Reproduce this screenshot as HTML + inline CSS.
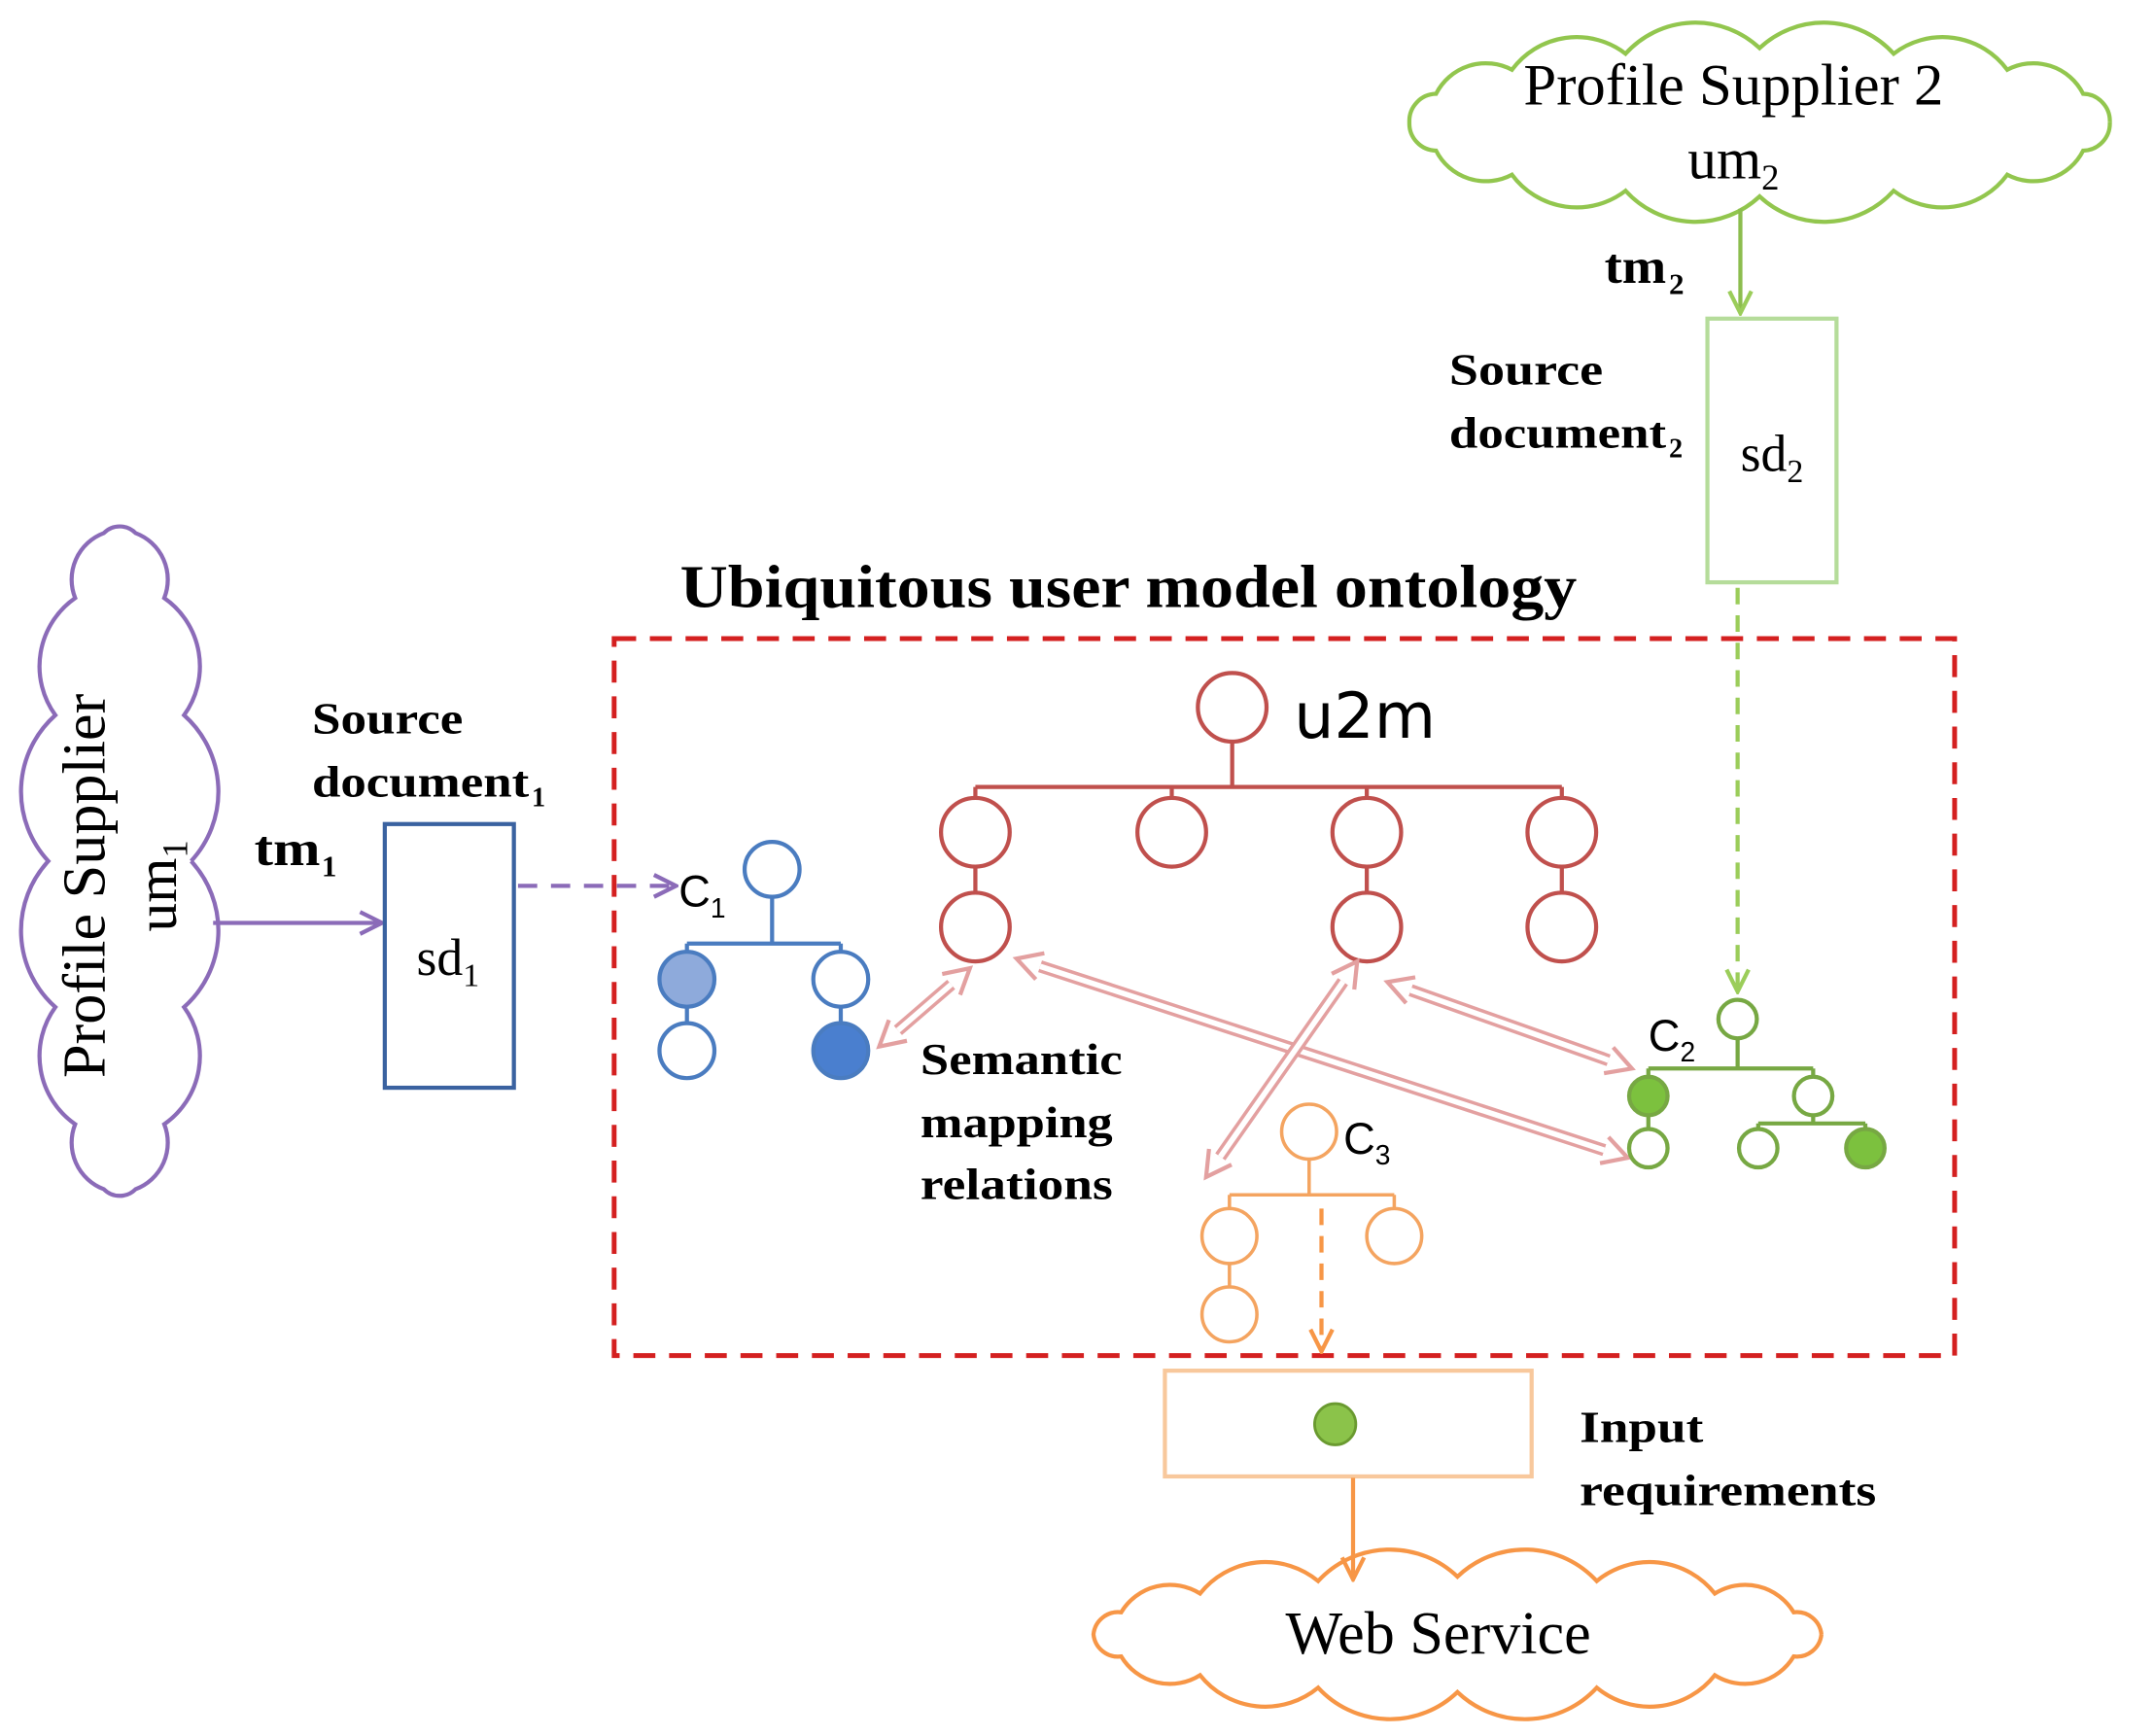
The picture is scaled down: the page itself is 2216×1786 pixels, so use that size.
<!DOCTYPE html>
<html><head><meta charset="utf-8"><style>
html,body{margin:0;padding:0;background:#fff;}
svg{display:block}
.serif{font-family:"Liberation Serif",serif}
.b{font-weight:bold}
</style></head><body>
<svg id="s" width="2216" height="1786" viewBox="0 0 1568 1264" xmlns="http://www.w3.org/2000/svg">
<defs>
<marker id="ap" markerWidth="20" markerHeight="20" refX="18" refY="10" orient="auto" markerUnits="userSpaceOnUse"><path d="M2,2 L18,10 L2,18" fill="none" stroke="#8b6bb8" stroke-width="3"/></marker>
<marker id="ao" markerWidth="20" markerHeight="20" refX="18" refY="10" orient="auto" markerUnits="userSpaceOnUse"><path d="M2,2 L18,10 L2,18" fill="none" stroke="#f79646" stroke-width="3"/></marker>
<marker id="agl" markerWidth="20" markerHeight="20" refX="18" refY="10" orient="auto" markerUnits="userSpaceOnUse"><path d="M2,2 L18,10 L2,18" fill="none" stroke="#9bcd5a" stroke-width="3"/></marker>
</defs>
<g id="clouds"></g>

<text x="1262" y="76" class="serif" font-size="43" text-anchor="middle">Profile Supplier 2</text>
<text x="1262" y="130" class="serif" font-size="42" text-anchor="middle">um<tspan font-size="26" dy="8">2</tspan></text>
<line x1="1267" y1="152" x2="1267" y2="228" stroke="#8cbd4e" stroke-width="3" marker-end="url(#agl)"/>
<text x="1168" y="206" class="serif b" font-size="36" textLength="45" lengthAdjust="spacingAndGlyphs">tm</text><text x="1215" y="214" class="serif b" font-size="22">2</text>
<rect x="1243" y="232" width="94" height="192" fill="none" stroke="#b5dc9a" stroke-width="3"/>
<text x="1290" y="343" class="serif" font-size="38" text-anchor="middle">sd<tspan font-size="24" dy="8">2</tspan></text>
<text x="1055" y="280" class="serif b" font-size="32" textLength="112" lengthAdjust="spacingAndGlyphs">Source</text>
<text x="1055" y="326" class="serif b" font-size="32" textLength="158" lengthAdjust="spacingAndGlyphs">document</text><text x="1215" y="333" class="serif b" font-size="20">2</text>
<line x1="1265" y1="428" x2="1265" y2="722" stroke="#9bcd5a" stroke-width="3" stroke-dasharray="12,8" marker-end="url(#agl)"/>

<text x="495" y="442" class="serif b" font-size="44" textLength="653" lengthAdjust="spacingAndGlyphs">Ubiquitous user model ontology</text>
<rect x="447" y="465" width="976" height="522" fill="none" stroke="#d42020" stroke-width="3.5" stroke-dasharray="16,10"/>

<text transform="translate(76,645) rotate(-90)" class="serif" font-size="44" text-anchor="middle">Profile Supplier</text>
<text transform="translate(128,645) rotate(-90)" class="serif" font-size="42" text-anchor="middle">um<tspan font-size="26" dy="8">1</tspan></text>
<line x1="155" y1="672" x2="278" y2="672" stroke="#8b6bb8" stroke-width="3" marker-end="url(#ap)"/>
<text x="185" y="630" class="serif b" font-size="36" textLength="48" lengthAdjust="spacingAndGlyphs">tm</text><text x="234" y="638" class="serif b" font-size="22">1</text>
<text x="227" y="534" class="serif b" font-size="32" textLength="110" lengthAdjust="spacingAndGlyphs">Source</text>
<text x="227" y="580" class="serif b" font-size="32" textLength="158" lengthAdjust="spacingAndGlyphs">document</text><text x="387" y="587" class="serif b" font-size="20">1</text>
<rect x="280" y="600" width="94" height="192" fill="none" stroke="#3a62a0" stroke-width="3"/>
<text x="326" y="710" class="serif" font-size="38" text-anchor="middle">sd<tspan font-size="24" dy="8">1</tspan></text>
<line x1="377" y1="645" x2="492" y2="645" stroke="#8b6bb8" stroke-width="3" stroke-dasharray="14,10" marker-end="url(#ap)"/>

<g stroke="#4a7cc0" stroke-width="3" fill="#fff">
<line x1="562" y1="653" x2="562" y2="687"/><line x1="500" y1="687" x2="612" y2="687"/>
<line x1="500" y1="687" x2="500" y2="745"/><line x1="612" y1="687" x2="612" y2="745"/>
<circle cx="562" cy="633" r="20"/>
<circle cx="500" cy="713" r="20" fill="#8eaadb"/><circle cx="612" cy="713" r="20"/>
<circle cx="500" cy="765" r="20"/><circle cx="612" cy="765" r="20" fill="#4a7fcf"/>
</g>
<text x="494" y="660" font-family="Liberation Sans,sans-serif" font-size="32">C<tspan font-size="20" dy="8">1</tspan></text>

<g stroke="#c0504d" stroke-width="3" fill="#fff">
<line x1="897" y1="540" x2="897" y2="573"/><line x1="710" y1="573" x2="1137" y2="573"/>
<line x1="710" y1="573" x2="710" y2="581"/><line x1="853" y1="573" x2="853" y2="581"/><line x1="995" y1="573" x2="995" y2="581"/><line x1="1137" y1="573" x2="1137" y2="581"/>
<line x1="710" y1="631" x2="710" y2="650"/><line x1="995" y1="631" x2="995" y2="650"/><line x1="1137" y1="631" x2="1137" y2="650"/>
<circle cx="897" cy="515" r="25"/>
<circle cx="710" cy="606" r="25"/><circle cx="853" cy="606" r="25"/><circle cx="995" cy="606" r="25"/><circle cx="1137" cy="606" r="25"/>
<circle cx="710" cy="675" r="25"/><circle cx="995" cy="675" r="25"/><circle cx="1137" cy="675" r="25"/>
</g>
<text x="942" y="537" font-family="DejaVu Sans,sans-serif" font-size="46">u2m</text>

<g id="darrows"></g>

<text x="670" y="782" class="serif b" font-size="32" textLength="147" lengthAdjust="spacingAndGlyphs">Semantic</text>
<text x="670" y="828" class="serif b" font-size="32" textLength="140" lengthAdjust="spacingAndGlyphs">mapping</text>
<text x="670" y="873" class="serif b" font-size="32" textLength="140" lengthAdjust="spacingAndGlyphs">relations</text>

<g stroke="#77a843" stroke-width="3" fill="#fff">
<line x1="1265" y1="756" x2="1265" y2="778"/><line x1="1200" y1="778" x2="1320" y2="778"/>
<line x1="1200" y1="778" x2="1200" y2="822"/><line x1="1320" y1="778" x2="1320" y2="784"/>
<line x1="1280" y1="818" x2="1358" y2="818"/><line x1="1280" y1="818" x2="1280" y2="822"/><line x1="1358" y1="818" x2="1358" y2="822"/><line x1="1320" y1="812" x2="1320" y2="818"/>
<circle cx="1265" cy="742" r="14"/>
<circle cx="1200" cy="798" r="14" fill="#7cc13e"/><circle cx="1320" cy="798" r="14"/>
<circle cx="1200" cy="836" r="14"/><circle cx="1280" cy="836" r="14"/><circle cx="1358" cy="836" r="14" fill="#7cc13e"/>
</g>
<text x="1200" y="765" font-family="Liberation Sans,sans-serif" font-size="32">C<tspan font-size="20" dy="8">2</tspan></text>

<g stroke="#f4a460" stroke-width="2.5" fill="#fff">
<line x1="953" y1="844" x2="953" y2="870"/><line x1="895" y1="870" x2="1015" y2="870"/>
<line x1="895" y1="870" x2="895" y2="880"/><line x1="1015" y1="870" x2="1015" y2="880"/><line x1="895" y1="920" x2="895" y2="937"/>
<circle cx="953" cy="824" r="20"/>
<circle cx="895" cy="900" r="20"/><circle cx="1015" cy="900" r="20"/><circle cx="895" cy="957" r="20"/>
</g>
<text x="978" y="840" font-family="Liberation Sans,sans-serif" font-size="32">C<tspan font-size="20" dy="8">3</tspan></text>
<line x1="962" y1="880" x2="962" y2="984" stroke="#f79646" stroke-width="3" stroke-dasharray="12,8" marker-end="url(#ao)"/>

<rect x="848" y="998" width="267" height="77" fill="none" stroke="#f8c89c" stroke-width="3"/>
<circle cx="972" cy="1037" r="15" fill="#8bc34a" stroke="#6a9a30" stroke-width="2"/>
<text x="1150" y="1050" class="serif b" font-size="32" textLength="90" lengthAdjust="spacingAndGlyphs">Input</text>
<text x="1150" y="1096" class="serif b" font-size="32" textLength="216" lengthAdjust="spacingAndGlyphs">requirements</text>
<line x1="985" y1="1076" x2="985" y2="1150" stroke="#f79646" stroke-width="3" marker-end="url(#ao)"/>
<text x="1047" y="1204" class="serif" font-size="44" text-anchor="middle">Web Service</text>
</svg>
<script>
function cloud(cx,cy,rx,ry,n,color,amp){
  var pts=[];for(var i=0;i<n;i++){var a=2*Math.PI*i/n;pts.push([cx+rx*Math.cos(a),cy+ry*Math.sin(a)]);}
  var d="M"+pts[0][0]+","+pts[0][1];
  for(var i=1;i<=n;i++){var p=pts[i%n],q=pts[i-1];var L=Math.hypot(p[0]-q[0],p[1]-q[1]);var r=L*amp;
    d+=" A"+r+","+r+" 0 0,1 "+p[0]+","+p[1];}
  return '<path d="'+d+'" fill="none" stroke="'+color+'" stroke-width="3"/>';
}
var g=document.getElementById("clouds");
g.innerHTML=cloud(1281,89,255,54,16,"#92c64e",0.7)+cloud(87,627,52,245,14,"#8b6bb8",0.7)+cloud(1061,1190,265,42,16,"#f79646",0.7);
function dbl(x1,y1,x2,y2){
  var dx=x2-x1,dy=y2-y1,L=Math.hypot(dx,dy),ux=dx/L,uy=dy/L,nx=-uy,ny=ux,h=18,w=10,s="";
  var ax=x1+ux*h,ay=y1+uy*h,bx=x2-ux*h,by=y2-uy*h;
  s+='<line x1="'+ax+'" y1="'+ay+'" x2="'+bx+'" y2="'+by+'" stroke="#e3a0a0" stroke-width="9"/>';
  s+='<line x1="'+ax+'" y1="'+ay+'" x2="'+bx+'" y2="'+by+'" stroke="#fff" stroke-width="4"/>';
  [[x1,y1,ux,uy],[x2,y2,-ux,-uy]].forEach(function(t){
    var px=t[0],py=t[1],vx=t[2],vy=t[3];
    var p1=[px+vx*h+nx*w,py+vy*h+ny*w],p2=[px+vx*h-nx*w,py+vy*h-ny*w];
    s+='<path d="M'+p1[0]+','+p1[1]+' L'+px+','+py+' L'+p2[0]+','+p2[1]+'" fill="none" stroke="#e3a0a0" stroke-width="3"/>';
  });
  return s;
}
document.getElementById("darrows").innerHTML=dbl(640,762,706,705)+dbl(740,698,1185,843)+dbl(988,700,878,857)+dbl(1010,715,1188,778);
</script>
</body></html>
